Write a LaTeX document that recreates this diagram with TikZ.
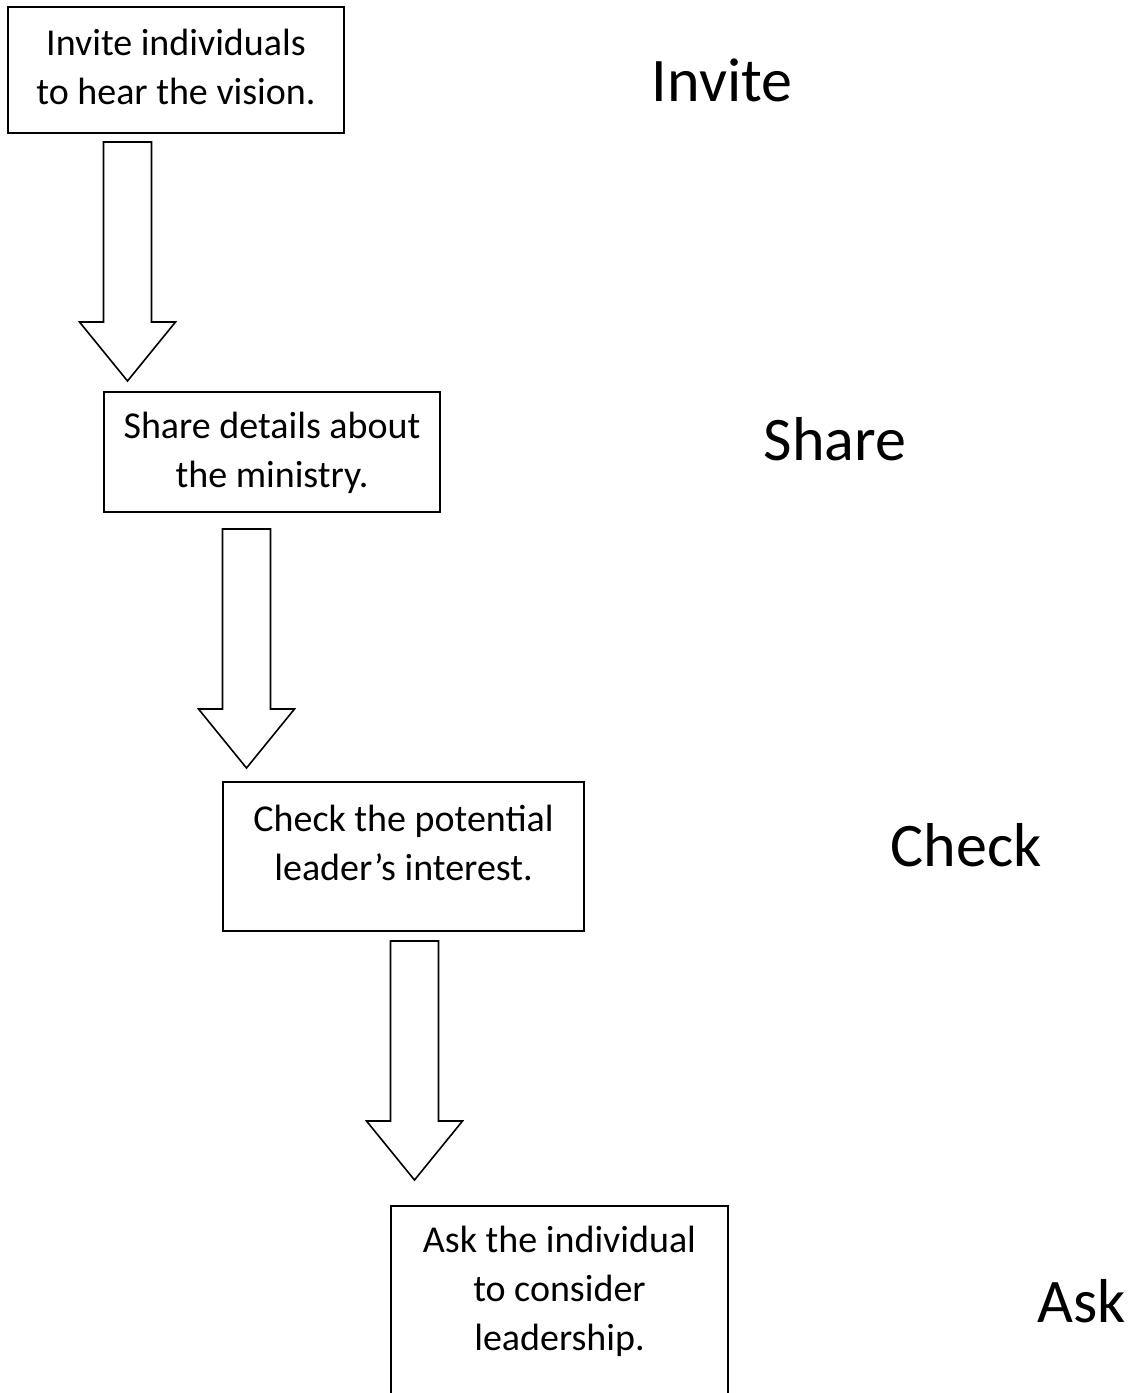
\documentclass[tikz,border=0pt]{standalone}
\usepackage{fontspec}
\setmainfont{Carlito}
\usetikzlibrary{calc}
\tikzset{
  stepbox/.style={draw=black, line width=1pt, fill=white, inner sep=0pt},
  boxtext/.style={align=center, font=\fontsize{19}{24.5}\selectfont},
  stagelabel/.style={anchor=base, inner sep=0pt, font=\fontsize{31}{36}\selectfont},
  flowarrow/.style={draw=black, line width=0.8pt, fill=white, line join=miter}
}
\begin{document}
\begin{tikzpicture}[x=0.5pt, y=-0.5pt]
  \path[use as bounding box] (0,0) rectangle (1138,1393);
  \clip (0,0) rectangle (1138,1393);

  % process steps
  \node[stepbox, minimum width=168pt, minimum height=63pt] (invite) at (176,70) {};
  \node[boxtext] (invitetext) at (176,67) {Invite individuals\\to hear the vision.};
  \node[stepbox, minimum width=168pt, minimum height=60pt] (share) at (272,452) {};
  \node[boxtext] (sharetext) at (272,453) {Share details about\\the ministry.};
  \node[stepbox, minimum width=180.5pt, minimum height=74.5pt] (check) at (403.5,856.5) {};
  \node[boxtext] (checktext) at (403.5,843) {Check the potential\\leader’s interest.};
  \node[stepbox, anchor=north, minimum width=168.5pt, minimum height=110pt] (ask) at (559.5,1205) {};
  \node[boxtext] (asktext) at (559.5,1291) {Ask the individual\\to consider\\leadership.};

  % stage names
  \node[stagelabel] (lblinvite) at (722,101) {Invite};
  \node[stagelabel] (lblshare) at (835,460) {Share};
  \node[stagelabel] (lblcheck) at (966,866) {Check};
  \node[stagelabel] (lblask) at (1082,1322) {Ask};

  % block arrows; each tip sits a given gap above the next step
  \foreach \nxt/\gap in {share/10, check/13, ask/25} {
    \draw[flowarrow] ($(\nxt.north west)+(24.5,-\gap)$)
      -- ++(48,-59) -- ++(-24,0) -- ++(0,-180) -- ++(-48,0)
      -- ++(0,180) -- ++(-24,0) -- cycle;
  }
\end{tikzpicture}
\end{document}
